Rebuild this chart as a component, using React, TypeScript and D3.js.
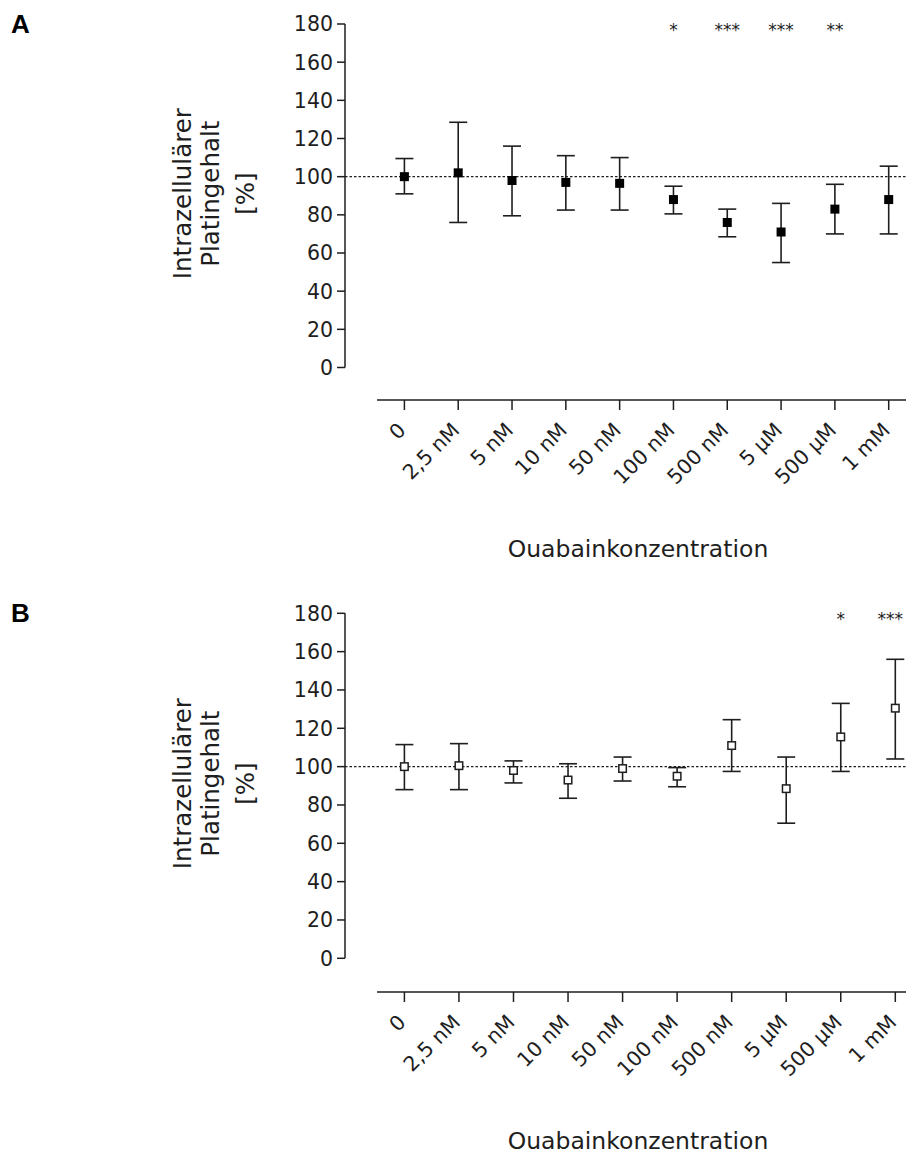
import React from "react";
import * as d3 from "d3";

const categories = ["0", "2,5 nM", "5 nM", "10 nM", "50 nM", "100 nM", "500 nM", "5 µM", "500 µM", "1 mM"];
const yTicks = [0, 20, 40, 60, 80, 100, 120, 140, 160, 180];

const meanA = [100, 102, 98, 97, 96.5, 88, 76, 71, 83, 88];
const upperA = [109.5, 128.5, 116, 111, 110, 95, 83, 86, 96, 105.5];
const lowerA = [91, 76, 79.5, 82.5, 82.5, 80.5, 68.5, 55, 70, 70];
const sigA = ["", "", "", "", "", "*", "***", "***", "**", ""];

const meanB = [100, 100.5, 98, 93, 99, 95, 111, 88.5, 115.5, 130.5];
const upperB = [111.5, 112, 103, 101.5, 105, 99.5, 124.5, 105, 133, 156];
const lowerB = [88, 88, 91.5, 83.5, 92.5, 89.5, 97.5, 70.5, 97.5, 104];
const sigB = ["", "", "", "", "", "", "", "", "*", "***"];

const yLabelLines = ["Intrazellulärer", "Platingehalt", "[%]"];
const xTitle = "Ouabainkonzentration";

const FONT = "'DejaVu Sans', sans-serif";
const INK = "#1e1e1e";
const W = 906;

type PanelProps = {
  letter: string;
  top: number; // y pixel of value 180
  bottom: number; // y pixel of value 0
  axisY: number;
  xFirst: number;
  xLast: number;
  mean: number[];
  upper: number[];
  lower: number[];
  sig: string[];
  filled: boolean;
};

function Panel(p: PanelProps) {
  const axisX = 345;
  const y = d3.scaleLinear().domain([0, 180]).range([p.bottom, p.top]);
  const x = d3.scalePoint<string>().domain(categories).range([p.xFirst, p.xLast]);
  const labelCenterY = y(100) + 17;
  const cap = 9;
  const ms = 9;
  const starFs = 17;
  return (
    <g>
      <text x={11} y={p.top + 8.5} fontFamily="'Liberation Sans', Arial, sans-serif" fontWeight="bold" fontSize={26} fill="#000">
        {p.letter}
      </text>
      {/* y axis */}
      <line x1={axisX} x2={axisX} y1={y(180)} y2={y(0)} stroke={INK} strokeWidth={1.5} />
      {yTicks.map((t) => (
        <g key={t}>
          <line x1={axisX - 8} x2={axisX} y1={y(t)} y2={y(t)} stroke={INK} strokeWidth={1.5} />
          <text x={axisX - 12} y={y(t)} dy="0.36em" textAnchor="end" fontFamily={FONT} fontSize={20.5} fill={INK}>
            {t}
          </text>
        </g>
      ))}
      {/* y label */}
      {yLabelLines.map((s, i) => (
        <text
          key={s}
          transform={`translate(${[191, 219, 254][i]},${labelCenterY}) rotate(-90)`}
          textAnchor="middle"
          fontFamily={FONT}
          fontSize={24.5}
          fill={INK}
        >
          {s}
        </text>
      ))}
      {/* x axis */}
      <line x1={377} x2={W} y1={p.axisY} y2={p.axisY} stroke={INK} strokeWidth={1.5} />
      {categories.map((c) => (
        <g key={c}>
          <line x1={x(c)!} x2={x(c)!} y1={p.axisY} y2={p.axisY + 10} stroke={INK} strokeWidth={1.5} />
          <text
            transform={`translate(${x(c)! + 2.5},${p.axisY + 31.5}) rotate(-45)`}
            textAnchor="end"
            fontFamily={FONT}
            fontSize={20.5}
            fill={INK}
          >
            {c}
          </text>
        </g>
      ))}
      <text x={638} y={p.axisY + 157} textAnchor="middle" fontFamily={FONT} fontSize={23.5} fill={INK}>
        {xTitle}
      </text>
      {/* reference line */}
      <line x1={axisX} x2={W} y1={y(100)} y2={y(100)} stroke={INK} strokeWidth={1.4} strokeDasharray="2.5,2" />
      {/* error bars & markers */}
      {categories.map((c, i) => {
        const cx = x(c)!;
        const sw = p.sig[i].length * 0.5 * starFs;
        const fits = cx + sw / 2 <= W - 2;
        return (
          <g key={c}>
            <line x1={cx} x2={cx} y1={y(p.upper[i])} y2={y(p.lower[i])} stroke={INK} strokeWidth={1.6} />
            <line x1={cx - cap} x2={cx + cap} y1={y(p.upper[i])} y2={y(p.upper[i])} stroke={INK} strokeWidth={1.6} />
            <line x1={cx - cap} x2={cx + cap} y1={y(p.lower[i])} y2={y(p.lower[i])} stroke={INK} strokeWidth={1.6} />
            {p.filled ? (
              <rect x={cx - ms / 2} y={y(p.mean[i]) - ms / 2} width={ms} height={ms} fill="#000" />
            ) : (
              <rect
                x={cx - (ms - 1.5) / 2}
                y={y(p.mean[i]) - (ms - 1.5) / 2}
                width={ms - 1.5}
                height={ms - 1.5}
                fill="#fff"
                stroke={INK}
                strokeWidth={1.5}
              />
            )}
            {p.sig[i] && (
              <text
                x={fits ? cx : W - 3}
                y={p.top + 11.5}
                textAnchor={fits ? "middle" : "end"}
                fontFamily={FONT}
                fontSize={starFs}
                fill={INK}
              >
                {p.sig[i]}
              </text>
            )}
          </g>
        );
      })}
    </g>
  );
}

export default function App() {
  return (
    <svg
      width={W}
      height={1157}
      style={{ position: "absolute", left: 0, top: 0, background: "#fff" }}
    >
      <rect width={W} height={1157} fill="#fff" />
      <Panel
        letter="A"
        top={24}
        bottom={367.5}
        axisY={400}
        xFirst={404.4}
        xLast={888.7}
        mean={meanA}
        upper={upperA}
        lower={lowerA}
        sig={sigA}
        filled={true}
      />
      <Panel
        letter="B"
        top={613.3}
        bottom={958.3}
        axisY={992}
        xFirst={404.4}
        xLast={895.3}
        mean={meanB}
        upper={upperB}
        lower={lowerB}
        sig={sigB}
        filled={false}
      />
    </svg>
  );
}
